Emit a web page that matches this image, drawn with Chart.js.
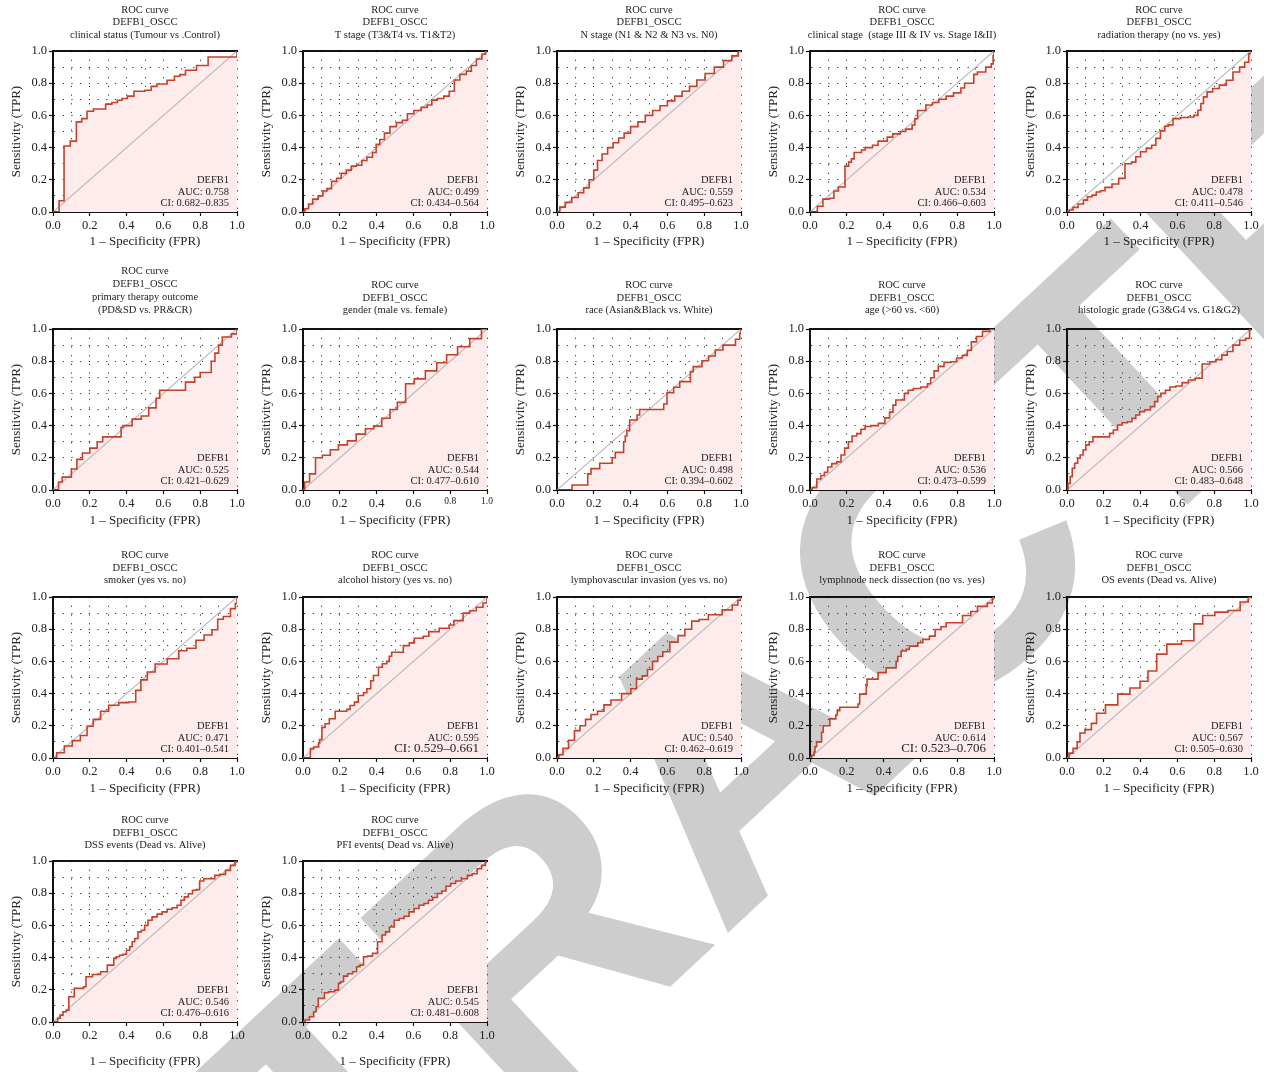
<!DOCTYPE html>
<html>
<head>
<meta charset="utf-8">
<title>ROC curves – DEFB1 in OSCC</title>
<script src="https://cdn.jsdelivr.net/npm/chart.js@4.4.1/dist/chart.umd.min.js"></script>
<style>
  html, body { margin: 0; padding: 0; background: #fff; }
  #stage { position: relative; width: 1264px; height: 1072px; overflow: hidden; background: #fff; }
  #mark {
    position: absolute; left: 0; top: 0; white-space: nowrap;
    font-family: "Liberation Sans", Arial, sans-serif; font-weight: bold;
    font-size: 380px; line-height: 1; color: #cdcdcd; z-index: 0;
    user-select: none;
  }
  canvas.panel { position: absolute; z-index: 1; }
</style>
</head>
<body>
<div id="stage">
  <div id="mark">RETRA<span id="markC">C</span>TED</div>
</div>
<script>
// ---- panel titles, AUC and confidence intervals ----
const panelSubtitles = [
  ['clinical status (Tumour vs .Control)'],
  ['T stage (T3&T4 vs. T1&T2)'],
  ['N stage (N1 & N2 & N3 vs. N0)'],
  ['clinical stage  (stage III & IV vs. Stage I&II)'],
  ['radiation therapy (no vs. yes)'],
  ['primary therapy outcome', '(PD&SD vs. PR&CR)'],
  ['gender (male vs. female)'],
  ['race (Asian&Black vs. White)'],
  ['age (>60 vs. <60)'],
  ['histologic grade (G3&G4 vs. G1&G2)'],
  ['smoker (yes vs. no)'],
  ['alcohol history (yes vs. no)'],
  ['lymphovascular invasion (yes vs. no)'],
  ['lymphnode neck dissection (no vs. yes)'],
  ['OS events (Dead vs. Alive)'],
  ['DSS events (Dead vs. Alive)'],
  ['PFI events( Dead vs. Alive)']
];
const aucValues = ['0.758','0.499','0.559','0.534','0.478','0.525','0.544','0.498','0.536','0.566','0.471','0.595','0.540','0.614','0.567','0.546','0.545'];
const ciLower   = ['0.682','0.434','0.495','0.466','0.411','0.421','0.477','0.394','0.473','0.483','0.401','0.529','0.462','0.523','0.505','0.476','0.481'];
const ciUpper   = ['0.835','0.564','0.623','0.603','0.546','0.629','0.610','0.602','0.599','0.648','0.541','0.661','0.619','0.706','0.630','0.616','0.608'];

// ---- ROC curves: [FPR, TPR] ----
const rocClinicalStatus = [[0,0],[0.033,0.07],[0.06,0.41],[0.094,0.44],[0.127,0.56],[0.156,0.58],[0.185,0.626],[0.22,0.64],[0.286,0.67],[0.32,0.68],[0.35,0.694],[0.375,0.705],[0.404,0.72],[0.44,0.75],[0.50,0.756],[0.534,0.78],[0.565,0.795],[0.62,0.818],[0.66,0.843],[0.69,0.853],[0.72,0.88],[0.78,0.91],[0.843,0.963],[1,1]];
const rocTStage = [[0,0],[0.02,0.02],[0.04,0.05],[0.065,0.08],[0.10,0.10],[0.115,0.13],[0.145,0.145],[0.165,0.19],[0.2,0.21],[0.215,0.24],[0.255,0.26],[0.27,0.285],[0.31,0.29],[0.33,0.32],[0.365,0.34],[0.39,0.37],[0.405,0.42],[0.43,0.45],[0.455,0.49],[0.49,0.53],[0.525,0.555],[0.555,0.57],[0.58,0.61],[0.625,0.63],[0.66,0.65],[0.69,0.665],[0.71,0.695],[0.75,0.705],[0.78,0.72],[0.81,0.75],[0.835,0.82],[0.87,0.855],[0.905,0.875],[0.925,0.91],[0.96,0.95],[0.985,0.98],[1,1]];
const rocNStage = [[0,0],[0.03,0.03],[0.06,0.06],[0.1,0.09],[0.13,0.12],[0.16,0.15],[0.19,0.2],[0.21,0.26],[0.23,0.32],[0.26,0.36],[0.29,0.4],[0.32,0.43],[0.35,0.46],[0.38,0.49],[0.42,0.53],[0.46,0.56],[0.5,0.6],[0.54,0.63],[0.58,0.66],[0.62,0.69],[0.66,0.72],[0.7,0.75],[0.74,0.78],[0.78,0.82],[0.83,0.86],[0.88,0.9],[0.93,0.94],[0.97,0.97],[1,1]];
const rocClinicalStage = [[0,0],[0.04,0.036],[0.07,0.08],[0.105,0.085],[0.13,0.13],[0.154,0.155],[0.19,0.285],[0.21,0.31],[0.225,0.33],[0.24,0.37],[0.28,0.385],[0.3,0.4],[0.34,0.415],[0.37,0.44],[0.42,0.465],[0.45,0.485],[0.49,0.5],[0.52,0.515],[0.555,0.54],[0.57,0.58],[0.585,0.63],[0.63,0.665],[0.665,0.68],[0.7,0.7],[0.74,0.72],[0.78,0.74],[0.82,0.77],[0.84,0.80],[0.89,0.855],[0.91,0.87],[0.955,0.9],[0.985,0.92],[0.995,0.97],[1,1]];
const rocRadiation = [[0,0],[0.024,0.012],[0.042,0.029],[0.078,0.05],[0.10,0.074],[0.123,0.095],[0.15,0.105],[0.168,0.124],[0.196,0.132],[0.217,0.153],[0.272,0.174],[0.29,0.209],[0.34,0.30],[0.362,0.31],[0.386,0.343],[0.413,0.374],[0.45,0.395],[0.47,0.415],[0.495,0.457],[0.52,0.504],[0.543,0.533],[0.558,0.541],[0.594,0.58],[0.64,0.587],[0.676,0.59],[0.703,0.60],[0.72,0.632],[0.735,0.674],[0.748,0.715],[0.775,0.746],[0.808,0.767],[0.848,0.788],[0.884,0.818],[0.92,0.87],[0.956,0.90],[0.975,0.93],[1,0.983],[1,1]];
const rocPrimaryTherapy = [[0,0],[0.03,0.05],[0.05,0.08],[0.1,0.13],[0.13,0.19],[0.16,0.23],[0.2,0.26],[0.24,0.30],[0.27,0.33],[0.37,0.39],[0.38,0.40],[0.43,0.44],[0.48,0.46],[0.52,0.51],[0.56,0.57],[0.58,0.62],[0.72,0.67],[0.77,0.70],[0.8,0.73],[0.86,0.80],[0.88,0.85],[0.9,0.9],[0.92,0.95],[0.97,0.97],[1,1]];
const rocGender = [[0,0],[0.018,0.05],[0.053,0.10],[0.083,0.2],[0.127,0.216],[0.17,0.25],[0.215,0.28],[0.268,0.305],[0.31,0.347],[0.368,0.38],[0.40,0.397],[0.456,0.446],[0.49,0.50],[0.535,0.544],[0.58,0.66],[0.63,0.69],[0.70,0.74],[0.754,0.79],[0.807,0.84],[0.873,0.89],[0.94,0.94],[1,1]];
const rocRace = [[0,0],[0.045,0],[0.082,0.031],[0.167,0.1],[0.185,0.133],[0.232,0.166],[0.3,0.2],[0.317,0.234],[0.362,0.3],[0.371,0.335],[0.38,0.369],[0.395,0.435],[0.435,0.466],[0.449,0.5],[0.58,0.534],[0.598,0.605],[0.634,0.638],[0.667,0.673],[0.725,0.735],[0.74,0.766],[0.788,0.803],[0.824,0.832],[0.86,0.87],[0.902,0.9],[0.97,0.936],[0.993,0.973],[1,1]];
const rocAge = [[0,0],[0.024,0.015],[0.05,0.068],[0.069,0.09],[0.087,0.11],[0.105,0.143],[0.132,0.164],[0.16,0.175],[0.177,0.217],[0.2,0.26],[0.217,0.30],[0.24,0.335],[0.268,0.35],[0.286,0.377],[0.313,0.394],[0.349,0.40],[0.394,0.414],[0.42,0.448],[0.445,0.484],[0.457,0.527],[0.476,0.559],[0.506,0.559],[0.52,0.60],[0.548,0.62],[0.575,0.63],[0.63,0.64],[0.647,0.66],[0.665,0.697],[0.684,0.74],[0.71,0.768],[0.747,0.793],[0.783,0.797],[0.81,0.82],[0.846,0.836],[0.864,0.868],[0.89,0.92],[0.92,0.953],[0.955,0.985],[1,1]];
const rocHistologicGrade = [[0,0],[0.011,0.041],[0.024,0.083],[0.033,0.135],[0.05,0.166],[0.065,0.197],[0.078,0.217],[0.096,0.248],[0.109,0.28],[0.132,0.30],[0.15,0.33],[0.223,0.33],[0.24,0.352],[0.264,0.373],[0.286,0.404],[0.313,0.418],[0.344,0.424],[0.362,0.445],[0.386,0.466],[0.404,0.487],[0.44,0.497],[0.467,0.518],[0.486,0.549],[0.5,0.58],[0.52,0.60],[0.55,0.62],[0.57,0.64],[0.612,0.646],[0.64,0.667],[0.68,0.683],[0.712,0.694],[0.757,0.783],[0.793,0.797],[0.826,0.81],[0.857,0.838],[0.884,0.86],[0.92,0.90],[0.957,0.93],[0.984,0.942],[1,0.994],[1,1]];
const rocSmoker = [[0,0],[0.04,0.033],[0.083,0.075],[0.127,0.108],[0.17,0.14],[0.2,0.197],[0.237,0.24],[0.28,0.29],[0.325,0.328],[0.39,0.344],[0.434,0.348],[0.465,0.42],[0.49,0.485],[0.535,0.534],[0.575,0.584],[0.667,0.616],[0.70,0.666],[0.754,0.682],[0.80,0.731],[0.842,0.764],[0.886,0.797],[0.904,0.862],[0.947,0.879],[0.982,0.928],[1,0.96],[1,1]];
const rocAlcohol = [[0,0],[0.04,0.058],[0.058,0.068],[0.085,0.095],[0.09,0.114],[0.103,0.19],[0.12,0.213],[0.143,0.244],[0.175,0.29],[0.238,0.302],[0.256,0.326],[0.28,0.347],[0.30,0.388],[0.329,0.405],[0.347,0.43],[0.368,0.48],[0.383,0.512],[0.41,0.564],[0.431,0.585],[0.455,0.60],[0.469,0.632],[0.482,0.657],[0.545,0.698],[0.578,0.715],[0.605,0.744],[0.653,0.756],[0.684,0.785],[0.74,0.806],[0.794,0.826],[0.82,0.853],[0.87,0.90],[0.906,0.915],[0.942,0.936],[0.978,0.963],[1,0.988],[1,1]];
const rocLymphovascular = [[0,0],[0.02,0.02],[0.045,0.06],[0.08,0.11],[0.11,0.17],[0.14,0.2],[0.17,0.24],[0.2,0.27],[0.24,0.29],[0.27,0.33],[0.316,0.36],[0.386,0.40],[0.417,0.43],[0.447,0.49],[0.48,0.51],[0.504,0.55],[0.535,0.6],[0.56,0.63],[0.59,0.66],[0.636,0.72],[0.68,0.76],[0.71,0.80],[0.754,0.85],[0.79,0.86],[0.855,0.89],[0.94,0.92],[0.965,0.95],[1,0.98],[1,1]];
const rocLymphnode = [[0,0],[0.009,0.016],[0.022,0.037],[0.027,0.07],[0.036,0.1],[0.063,0.16],[0.072,0.2],[0.108,0.243],[0.14,0.267],[0.148,0.294],[0.162,0.315],[0.261,0.335],[0.27,0.397],[0.306,0.449],[0.31,0.49],[0.37,0.53],[0.414,0.56],[0.468,0.60],[0.477,0.63],[0.495,0.665],[0.523,0.675],[0.54,0.695],[0.586,0.716],[0.613,0.737],[0.649,0.757],[0.68,0.798],[0.712,0.815],[0.74,0.84],[0.829,0.885],[0.874,0.91],[0.91,0.942],[0.964,0.963],[0.991,0.988],[1,1]];
const rocOsEvents = [[0,0],[0.022,0.03],[0.044,0.06],[0.066,0.1],[0.075,0.155],[0.12,0.176],[0.145,0.215],[0.176,0.278],[0.242,0.33],[0.31,0.397],[0.374,0.435],[0.42,0.477],[0.46,0.54],[0.515,0.645],[0.57,0.707],[0.674,0.728],[0.705,0.833],[0.77,0.885],[0.837,0.906],[0.912,0.916],[0.97,0.969],[1,1]];
const rocDssEvents = [[0,0],[0.018,0],[0.033,0.023],[0.045,0.043],[0.063,0.064],[0.082,0.074],[0.09,0.157],[0.108,0.157],[0.123,0.209],[0.154,0.209],[0.178,0.219],[0.181,0.281],[0.208,0.281],[0.22,0.295],[0.254,0.295],[0.263,0.312],[0.29,0.312],[0.3,0.353],[0.326,0.353],[0.335,0.395],[0.353,0.405],[0.371,0.415],[0.39,0.421],[0.408,0.446],[0.426,0.467],[0.435,0.498],[0.453,0.519],[0.471,0.56],[0.489,0.57],[0.507,0.60],[0.525,0.632],[0.552,0.653],[0.58,0.67],[0.607,0.684],[0.634,0.70],[0.661,0.71],[0.688,0.725],[0.703,0.756],[0.725,0.777],[0.746,0.797],[0.77,0.818],[0.788,0.822],[0.806,0.876],[0.833,0.89],[0.87,0.89],[0.888,0.911],[0.924,0.917],[0.951,0.942],[0.978,0.973],[1,0.994],[1,1]];
const rocPfiEvents = [[0,0],[0.022,0.012],[0.049,0.033],[0.067,0.064],[0.076,0.095],[0.09,0.147],[0.112,0.147],[0.121,0.182],[0.157,0.188],[0.188,0.198],[0.198,0.24],[0.211,0.25],[0.23,0.285],[0.256,0.30],[0.283,0.312],[0.30,0.343],[0.32,0.353],[0.338,0.405],[0.365,0.409],[0.39,0.426],[0.42,0.498],[0.44,0.54],[0.458,0.56],[0.482,0.59],[0.51,0.632],[0.536,0.643],[0.563,0.657],[0.59,0.684],[0.617,0.705],[0.644,0.725],[0.671,0.736],[0.693,0.756],[0.717,0.773],[0.744,0.798],[0.765,0.814],[0.789,0.843],[0.816,0.86],[0.843,0.876],[0.88,0.89],[0.906,0.911],[0.933,0.921],[0.96,0.952],[0.982,0.973],[1,0.994],[1,1]];

const rocCurves = [rocClinicalStatus, rocTStage, rocNStage, rocClinicalStage, rocRadiation,
  rocPrimaryTherapy, rocGender, rocRace, rocAge, rocHistologicGrade,
  rocSmoker, rocAlcohol, rocLymphovascular, rocLymphnode, rocOsEvents,
  rocDssEvents, rocPfiEvents];

// how each curve's vertices are joined
const stepModes = ['before','middle','middle','before','middle',
  'before','middle','before','middle','middle',
  'middle','before','middle','before','middle',
  'middle','middle'];

// ---- grid layout (plot-area origin of each column / row) ----
const columnLeft = [53, 303, 557, 810, 1067];
const rowTop = [51, 329, 597, 861];
const plotWidth = 184, plotHeight = 161;
const marginLeft = 58, marginTop = 66, marginRight = 14, marginBottom = 50;
const titleGap = [16, 18.5, 16.5, 15.5];
const xTitleOffset = [29.5, 31, 31, 40];
const largeCiPanels = [11, 13];
const smallEndTickPanels = [6];

const SERIF = '"Liberation Serif", "DejaVu Serif", serif';
Chart.defaults.font.family = SERIF;
Chart.defaults.color = '#222';

const isMajor = v => Math.round(v * 10) % 2 === 0;

// titles above each panel and the AUC box in its lower right corner
const panelText = {
  id: 'panelText',
  afterDraw(chart, args, opts) {
    const {ctx, chartArea: a} = chart;
    ctx.save();
    ctx.fillStyle = '#222';
    ctx.textBaseline = 'middle';
    ctx.textAlign = 'center';
    ctx.font = '10.5px ' + SERIF;
    const lines = opts.lines;
    const cx = (a.left + a.right) / 2;
    const spacing = lines.length > 3 ? 13 : 12.4;
    lines.forEach((t, k) => ctx.fillText(t, cx, a.top - opts.gap - (lines.length - 1 - k) * spacing));
    ctx.textAlign = 'right';
    const rx = a.right - 8;
    ctx.fillText('DEFB1', rx, a.bottom - 32);
    ctx.fillText('AUC: ' + opts.auc, rx, a.bottom - 20);
    ctx.font = (opts.bigCi ? '13px ' : '10.5px ') + SERIF;
    ctx.fillText('CI: ' + opts.ci, rx, a.bottom - 9);
    ctx.restore();
  }
};

function axisTicks(smallEnd) {
  return {
    stepSize: 0.1,
    autoSkip: false,
    maxRotation: 0,
    color: '#222',
    padding: 2,
    font: ctx => ({ size: (smallEnd && ctx.tick && ctx.tick.value > 0.75) ? 9.5 : 12.5 }),
    callback: v => isMajor(v) ? v.toFixed(1) : ''
  };
}
const dottedGrid = {
  color: '#333',
  lineWidth: 1,
  tickLength: 4,
  tickWidth: 1.2,
  tickColor: ctx => (ctx.tick && isMajor(ctx.tick.value)) ? '#111' : 'rgba(0,0,0,0)'
};

const stage = document.getElementById('stage');

rocCurves.forEach((curve, i) => {
  const row = Math.floor(i / 5), col = i % 5;
  const W = marginLeft + plotWidth + marginRight;
  const H = marginTop + plotHeight + marginBottom;
  const cv = document.createElement('canvas');
  cv.className = 'panel';
  cv.width = W; cv.height = H;
  cv.style.width = W + 'px'; cv.style.height = H + 'px';
  cv.style.left = (columnLeft[col] - marginLeft) + 'px';
  cv.style.top = (rowTop[row] - marginTop) + 'px';
  stage.appendChild(cv);

  const subtitle = panelSubtitles[i];
  new Chart(cv, {
    type: 'line',
    data: {
      datasets: [{
        data: curve.map(([x, y]) => ({x, y})),
        borderColor: '#c6402b',
        borderWidth: 1.6,
        pointRadius: 0,
        stepped: stepModes[i],
        fill: 'origin',
        backgroundColor: '#fdeceb'
      }, {
        data: [{x: 0, y: 0}, {x: 1, y: 1}],
        borderColor: '#bdb6b6',
        borderWidth: 1.1,
        pointRadius: 0,
        fill: false
      }]
    },
    options: {
      responsive: false,
      animation: false,
      events: [],
      layout: { padding: { left: 0, top: marginTop, right: marginRight, bottom: 0 } },
      scales: {
        x: {
          type: 'linear', min: 0, max: 1, z: 1,
          afterFit: s => { s.height = marginBottom; },
          ticks: axisTicks(smallEndTickPanels.includes(i)),
          grid: dottedGrid,
          border: { display: true, color: '#111', width: 2, dash: [1.2, 7.5] },
          title: {
            display: true, text: '1 – Specificity (FPR)', color: '#222',
            font: { size: 13 },
            padding: { top: 0, bottom: marginBottom - xTitleOffset[row] - 7.8 }
          }
        },
        y: {
          type: 'linear', min: 0, max: 1, z: 1,
          afterFit: s => { s.width = marginLeft; },
          ticks: axisTicks(false),
          grid: dottedGrid,
          border: { display: true, color: '#111', width: 2, dash: [1.2, 7.5] },
          title: {
            display: true, text: 'Sensitivity (TPR)', color: '#222',
            font: { size: 13 },
            padding: { top: marginLeft - 36 - 7.8, bottom: 0 }
          }
        },
        xTop: {
          type: 'linear', position: 'top', min: 0, max: 1,
          afterFit: s => { s.height = 0; },
          grid: { display: false, drawTicks: false },
          ticks: { display: false },
          border: { display: true, color: '#111', width: 2 }
        }
      },
      plugins: {
        legend: { display: false },
        tooltip: { enabled: false },
        filler: { drawTime: 'beforeDatasetsDraw' },
        panelText: {
          lines: ['ROC curve', 'DEFB1_OSCC'].concat(subtitle),
          gap: titleGap[row] + (subtitle.length > 1 ? 0.5 : 0),
          auc: aucValues[i],
          ci: ciLower[i] + '–' + ciUpper[i],
          bigCi: largeCiPanels.includes(i)
        }
      }
    },
    plugins: [panelText]
  });
});

// diagonal "RETRACTED" stamp behind the panels
(function placeStamp() {
  const mark = document.getElementById('mark');
  const c = document.getElementById('markC');
  const fs = 380;
  const cx = c.offsetLeft + c.offsetWidth / 2;
  const cy = fs * 0.49;
  mark.style.transformOrigin = cx + 'px ' + cy + 'px';
  mark.style.left = (930 - cx) + 'px';
  mark.style.top = (560 - cy) + 'px';
  mark.style.transform = 'rotate(-43deg)';
})();
</script>
</body>
</html>
